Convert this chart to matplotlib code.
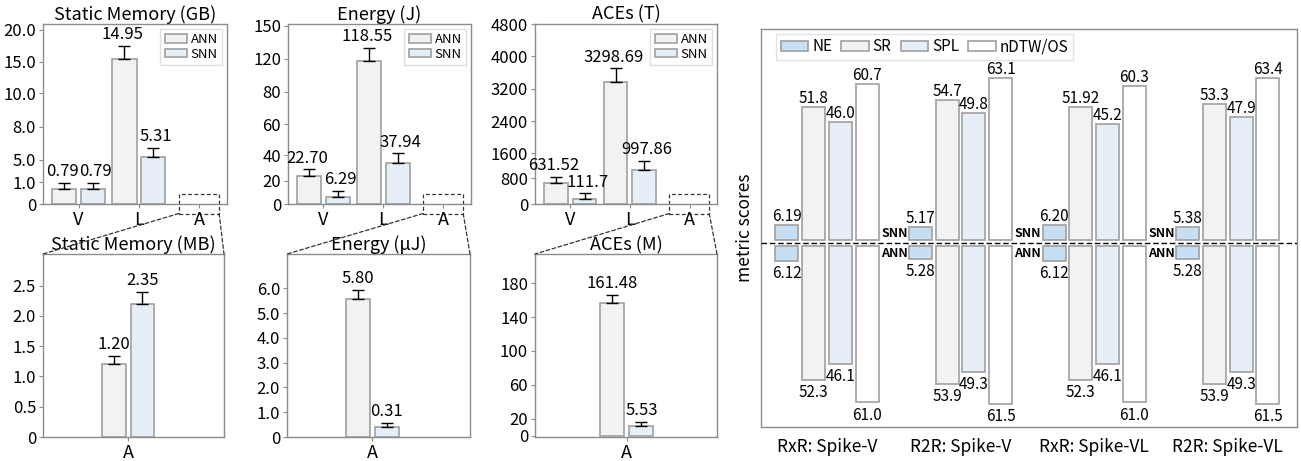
import numpy as np
import matplotlib
matplotlib.use("Agg")
import matplotlib.pyplot as plt
import matplotlib.transforms as mtransforms
from matplotlib.patches import Rectangle, ConnectionPatch

plt.rcParams['font.family'] = ['Noto Sans CJK SC', 'DejaVu Sans']
plt.rcParams['font.weight'] = 'medium'

# ----------------------------
# DATA: cost panels (V / L on top, A zoomed below)
# ----------------------------
top_groups = ["V", "L", "A"]

mem_gb_ann = [0.70, 15.37]
mem_gb_ann_err = [0.28, 2.13]
mem_gb_snn = [0.70, 5.22]
mem_gb_snn_err = [0.28, 0.86]
mem_gb_ann_lab = ["0.79", "14.95"]
mem_gb_snn_lab = ["0.79", "5.31"]
mem_gb_ticks = [0, 1.0, 5.0, 8.0, 10.0, 15.0, 20.0]
mem_gb_ticklabels = ["0", "1.0", "5.0", "8.0", "10.0", "15.0", "20.0"]

energy_j_ann = [23.9, 117.4]
energy_j_ann_err = [5.1, 12.6]
energy_j_snn = [6.4, 33.6]
energy_j_snn_err = [5.2, 7.5]
energy_j_ann_lab = ["22.70", "118.55"]
energy_j_snn_lab = ["6.29", "37.94"]
energy_j_ticks = [0, 20, 40, 60, 80, 120, 150]
energy_j_ticklabels = ["0", "20", "40", "60", "80", "120", "150"]

aces_t_ann = [646, 3377]
aces_t_ann_err = [194, 325]
aces_t_snn = [145, 1056]
aces_t_snn_err = [185, 298]
aces_t_ann_lab = ["631.52", "3298.69"]
aces_t_snn_lab = ["111.7", "997.86"]
aces_t_ticks = [0, 800, 1600, 2400, 3200, 4000, 4800]
aces_t_ticklabels = ["0", "800", "1600", "2400", "3200", "4000", "4800"]

# A only (zoomed)
mem_mb = [1.20, 2.19]
mem_mb_err = [0.14, 0.21]
mem_mb_lab = ["1.20", "2.35"]
mem_mb_ticks = [0, 0.5, 1.0, 1.5, 2.0, 2.5]
mem_mb_ticklabels = ["0", "0.5", "1.0", "1.5", "2.0", "2.5"]

energy_uj = [5.57, 0.39]
energy_uj_err = [0.38, 0.19]
energy_uj_lab = ["5.80", "0.31"]
energy_uj_ticks = [0, 1, 2, 3, 4, 5, 6]
energy_uj_ticklabels = ["0", "1.0", "2.0", "3.0", "4.0", "5.0", "6.0"]

aces_m = [156.5, 10.8]
aces_m_err = [10.0, 5.2]
aces_m_lab = ["161.48", "5.53"]
aces_m_ticks = [0, 20, 60, 100, 140, 180]
aces_m_ticklabels = ["0", "20", "60", "100", "140", "180"]

# ----------------------------
# DATA: navigation metrics (SNN up, ANN down)
# ----------------------------
nav_groups = ["RxR: Spike-V", "R2R: Spike-V", "RxR: Spike-VL", "R2R: Spike-VL"]
metrics = ["NE", "SR", "SPL", "nDTW/OS"]
snn_scores = {
    "NE": ["6.19", "5.17", "6.20", "5.38"],
    "SR": ["51.8", "54.7", "51.92", "53.3"],
    "SPL": ["46.0", "49.8", "45.2", "47.9"],
    "nDTW/OS": ["60.7", "63.1", "60.3", "63.4"],
}
ann_scores = {
    "NE": ["6.12", "5.28", "6.12", "5.28"],
    "SR": ["52.3", "53.9", "52.3", "53.9"],
    "SPL": ["46.1", "49.3", "46.1", "49.3"],
    "nDTW/OS": ["61.0", "61.5", "61.0", "61.5"],
}

# ----------------------------
# STYLE
# ----------------------------
ANN_C = "#f2f2f2"
SNN_C = "#e6eef8"
EDGE = "#a0a0a0"
SPINE = "#8c8c8c"
metric_colors = {"NE": "#c6dff2", "SR": "#f2f2f2", "SPL": "#e6eef8", "nDTW/OS": "#ffffff"}

W, H = 1301, 461
fig = plt.figure(figsize=(W / 100, H / 100), dpi=100)


def px_axes(x0, x1, y0, y1):
    return fig.add_axes([x0 / W, (H - y1) / H, (x1 - x0) / W, (y1 - y0) / H])


def style_box(ax):
    for s in ax.spines.values():
        s.set_color(SPINE)
        s.set_linewidth(1.0)
    ax.tick_params(axis="both", length=3, width=0.8, color=SPINE, pad=2)
    ax.tick_params(axis="y", labelsize=12)
    ax.tick_params(axis="x", labelsize=13)


def label_bars(ax, xs, vals, errs, labs, dx):
    for x, v, e, t in zip(xs, vals, errs, labs):
        ax.annotate(t, (x, v + e), xytext=(dx, 2), textcoords="offset points",
                    ha="center", va="bottom", fontsize=12)


def draw_bar(ax, xs, vals, errs, color):
    ax.bar(xs, vals, 0.4, color=color, edgecolor=EDGE, linewidth=1.2, zorder=2)
    ax.errorbar(xs, vals, yerr=[np.zeros(len(errs)), errs], fmt="none",
                ecolor="black", elinewidth=1, capsize=4.5, capthick=1, zorder=3)


def draw_top(ax, ticks, pos, top, ticklabels, ann, ann_err, snn, snn_err,
             ann_lab, snn_lab, title):
    t = np.array(list(ticks) + [top], dtype=float)
    p = np.array(list(pos) + [1.0])
    ax.set_yscale("function", functions=(lambda v: np.interp(v, t, p),
                                         lambda f: np.interp(f, p, t)))
    x = np.arange(len(ann))
    draw_bar(ax, x - 0.24, ann, ann_err, ANN_C)
    draw_bar(ax, x + 0.24, snn, snn_err, SNN_C)
    label_bars(ax, x - 0.24, ann, ann_err, ann_lab, -1.5)
    label_bars(ax, x + 0.24, snn, snn_err, snn_lab, 2)
    ax.set_ylim(0, top)
    ax.set_xlim(-0.59, 2.46)
    ax.set_yticks(ticks)
    ax.set_yticklabels(ticklabels)
    ax.yaxis.set_minor_locator(matplotlib.ticker.NullLocator())
    ax.set_xticks(np.arange(len(top_groups)))
    ax.set_xticklabels(top_groups)
    ax.set_title(title, fontsize=13, pad=3)
    style_box(ax)
    ax.legend(handles=ax.patches[:1] + ax.patches[len(ann):len(ann) + 1],
              labels=["ANN", "SNN"], loc="upper right", fontsize=9.5,
              fancybox=False, edgecolor="#d8d8d8", handlelength=1.7,
              handleheight=0.6, handletextpad=0.25, borderpad=0.35,
              labelspacing=0.1, borderaxespad=0.35)
    # dashed box around A
    tr = mtransforms.blended_transform_factory(ax.transData, ax.transAxes)
    ax.add_patch(Rectangle((1.66, -0.053), 0.67, 0.111, transform=tr, fill=False,
                           ls=(0, (3, 2)), lw=0.9, edgecolor="#333333", clip_on=False))
    return tr


def draw_bottom(ax, vals, errs, labs, ticks, ticklabels, ylim, xlim, title):
    xs = np.array([-0.24, 0.24])
    draw_bar(ax, xs[:1], vals[:1], errs[:1], ANN_C)
    draw_bar(ax, xs[1:], vals[1:], errs[1:], SNN_C)
    label_bars(ax, xs, vals, errs, labs, 0)
    ax.set_ylim(*ylim)
    ax.set_xlim(*xlim)
    ax.set_yticks(ticks)
    ax.set_yticklabels(ticklabels)
    ax.set_xticks([0])
    ax.set_xticklabels(["A"])
    ax.set_title(title, fontsize=13, pad=2)
    style_box(ax)


def connect(top_ax, tr, bot_ax):
    for xa, xb in [(1.66, 0.0), (2.33, 1.0)]:
        con = ConnectionPatch(xyA=(xa, -0.053), coordsA=tr, xyB=(xb, 1.0),
                              coordsB=bot_ax.transAxes, ls=(0, (3, 2)), lw=0.9,
                              color="#333333")
        fig.add_artist(con)


ax_tl = px_axes(43, 227, 24, 204)
ax_tm = px_axes(288, 471, 24, 204)
ax_tr = px_axes(535, 717, 24, 204)
ax_bl = px_axes(43, 224, 254, 437)
ax_bm = px_axes(287, 470, 254, 437)
ax_br = px_axes(535, 717, 254, 437)

tr1 = draw_top(ax_tl, mem_gb_ticks, [0, 0.120, 0.247, 0.428, 0.614, 0.790, 0.967], 20.93,
               mem_gb_ticklabels, mem_gb_ann, mem_gb_ann_err, mem_gb_snn, mem_gb_snn_err,
               mem_gb_ann_lab, mem_gb_snn_lab, "Static Memory (GB)")
tr2 = draw_top(ax_tm, energy_j_ticks, [0, 0.128, 0.272, 0.444, 0.624, 0.806, 0.989], 151.8,
               energy_j_ticklabels, energy_j_ann, energy_j_ann_err, energy_j_snn, energy_j_snn_err,
               energy_j_ann_lab, energy_j_snn_lab, "Energy (J)")
tr3 = draw_top(ax_tr, aces_t_ticks, [0, 0.143, 0.282, 0.459, 0.639, 0.822, 0.998], 4810,
               aces_t_ticklabels, aces_t_ann, aces_t_ann_err, aces_t_snn, aces_t_snn_err,
               aces_t_ann_lab, aces_t_snn_lab, "ACEs (T)")

draw_bottom(ax_bl, mem_mb, mem_mb_err, mem_mb_lab, mem_mb_ticks, mem_mb_ticklabels,
            (0, 3.02), (-1.42, 1.6), "Static Memory (MB)")
draw_bottom(ax_bm, energy_uj, energy_uj_err, energy_uj_lab, energy_uj_ticks, energy_uj_ticklabels,
            (0, 7.39), (-1.42, 1.63), "Energy (\u03bcJ)")
draw_bottom(ax_br, aces_m, aces_m_err, aces_m_lab, aces_m_ticks, aces_m_ticklabels,
            (-1.7, 214.6), (-1.53, 1.5), "ACEs (M)")

connect(ax_tl, tr1, ax_bl)
connect(ax_tm, tr2, ax_bm)
connect(ax_tr, tr3, ax_br)

# ----------------------------
# RIGHT PANEL: navigation metrics
# ----------------------------
ax = px_axes(761, 1297, 29, 427)
x = np.arange(len(nav_groups))
offsets = [-0.3, -0.1, 0.1, 0.3]
bw = 0.172
gap = 1.0
handles = []
for off, m in zip(offsets, metrics):
    up = np.array([float(v) for v in snn_scores[m]])
    dn = np.array([float(v) for v in ann_scores[m]])
    h = ax.bar(x + off, up, bw, bottom=gap, color=metric_colors[m], edgecolor=EDGE,
               linewidth=1.2, label=m, zorder=2)
    ax.bar(x + off, -dn, bw, bottom=-gap, color=metric_colors[m], edgecolor=EDGE,
           linewidth=1.2, zorder=2)
    handles.append(h)
    for xi, v, t in zip(x + off, up, snn_scores[m]):
        ax.annotate(t, (xi, gap + v), xytext=(0, 0), textcoords="offset points",
                    ha="center", va="bottom", fontsize=11)
    for xi, v, t in zip(x + off, dn, ann_scores[m]):
        ax.annotate(t, (xi, -gap - v), xytext=(0, -3), textcoords="offset points",
                    ha="center", va="top", fontsize=11)

for xi in x[1:]:
    left = xi + offsets[0] - bw / 2
    ax.annotate("SNN", (left, 1.0), xytext=(-1, 0), textcoords="offset points",
                ha="right", va="bottom", fontsize=9, fontweight="bold")
    ax.annotate("ANN", (left, -1.0), xytext=(-1, -1), textcoords="offset points",
                ha="right", va="top", fontsize=9, fontweight="bold")

ax.axhline(0, color="black", ls=(0, (4, 2)), lw=1.0, zorder=3)
ax.set_ylim(-71.6, 83.3)
ax.set_xlim(-0.494, 3.518)
ax.set_yticks([])
ax.set_xticks(x)
ax.set_xticklabels(nav_groups, fontsize=12.5)
ax.tick_params(axis="x", length=0, pad=8)
ax.set_ylabel("metric scores", fontsize=12.5, labelpad=5)
for s in ax.spines.values():
    s.set_color(SPINE)
    s.set_linewidth(1.0)
ax.legend(handles=handles, labels=metrics, ncol=4, loc="upper left", fontsize=11,
          fancybox=False, edgecolor="#dcdcdc", handlelength=1.8, handleheight=0.6,
          handletextpad=0.25, columnspacing=0.6, borderpad=0.3, borderaxespad=0.3,
          bbox_to_anchor=(0.02, 1.0))

fig.savefig("out.png", dpi=100)
